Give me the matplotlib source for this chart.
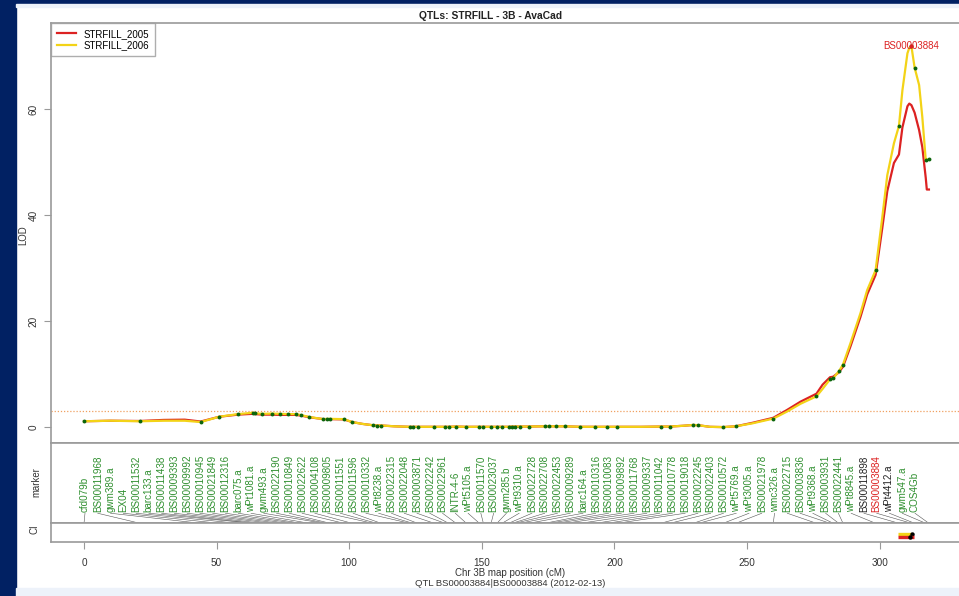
import numpy as np
import matplotlib
matplotlib.use('Agg')
import matplotlib.pyplot as plt
import matplotlib.transforms as mtransforms
from matplotlib.patches import Rectangle

plt.rcParams['font.family'] = ['Liberation Sans', 'DejaVu Sans']

# markers on chromosome 3B, in map order, with positions (cM)
marker_names = [
    'cfd079b', 'BS00011968', 'gwm389.a', 'EX04', 'BS00011532', 'barc133.a',
    'BS00011438', 'BS00009393', 'BS00009992', 'BS00010945', 'BS00021849',
    'BS00012316', 'barc075.a', 'wPt1081.a', 'gwm493.a', 'BS00022190',
    'BS00010849', 'BS00022622', 'BS00004108', 'BS00009805', 'BS00011551',
    'BS00011596', 'BS00010332', 'wPt8238.a', 'BS00022315', 'BS00022048',
    'BS00003871', 'BS00022242', 'BS00022961', 'INTR-4-6', 'wPt5105.a',
    'BS00011570', 'BS00023037', 'gwm285.b', 'wPt9310.a', 'BS00022728',
    'BS00022708', 'BS00022453', 'BS00009289', 'barc164.a', 'BS00010316',
    'BS00010083', 'BS00009892', 'BS00011768', 'BS00009337', 'BS00011042',
    'BS00010778', 'BS00019018', 'BS00022245', 'BS00022403', 'BS00010572',
    'wPt5769.a', 'wPt3005.a', 'BS00021978', 'wmc326.a', 'BS00022715',
    'BS00003836', 'wPt9368.a', 'BS00003931', 'BS00022441', 'wPt8845.a',
    'BS00011898', 'BS00003884', 'wPt4412.a', 'gwm547.a', 'COS4Gb']
marker_pos = [
    0.0, 21.1, 44.0, 51.0, 58.0, 63.6, 64.5, 67.3, 70.9, 73.9, 76.9, 79.8,
    82.0, 85.0, 90.3, 91.6, 92.8, 98.0, 101.1, 108.9, 110.4, 112.0, 122.8,
    124.0, 125.8, 132.1, 136.2, 137.5, 140.3, 144.2, 149.1, 150.6, 153.5,
    155.7, 157.6, 160.1, 161.4, 162.4, 164.3, 167.7, 173.7, 175.5, 178.0,
    181.4, 187.2, 192.8, 197.2, 201.0, 217.4, 220.9, 229.7, 231.7, 241.0,
    245.8, 259.9, 276.2, 281.3, 282.5, 284.6, 286.2, 298.5, 307.3, 312.0,
    313.2, 317.4, 318.6]
black_markers = ['BS00011898', 'wPt4412.a']
peak_marker = 'BS00003884'

# LOD profiles
curve_pos = [
    0.0, 10.0, 21.1, 30.0, 38.0, 44.0, 51.0, 58.0, 63.6, 64.5, 67.3, 70.9,
    73.9, 76.9, 79.8, 82.0, 85.0, 90.3, 91.6, 92.8, 98.0, 101.1, 105.0,
    108.9, 110.4, 112.0, 117.0, 122.8, 124.0, 125.8, 132.1, 136.2, 137.5,
    140.3, 144.2, 149.1, 150.6, 153.5, 155.7, 157.6, 160.1, 161.4, 162.4,
    164.3, 167.7, 173.7, 175.5, 178.0, 181.4, 187.2, 192.8, 197.2, 201.0,
    210.0, 217.4, 220.9, 226.0, 229.7, 231.7, 236.0, 241.0, 245.8, 252.0,
    259.9, 265.0, 270.2, 276.2, 278.5, 281.3, 282.5, 284.6, 286.2, 289.0,
    292.8, 295.3, 298.5, 301.0, 302.9, 305.4, 307.3, 308.6, 310.5, 311.2,
    312.0, 313.2, 314.9, 316.1, 317.4, 317.8, 318.6]
lod_2006 = [
    1.1, 1.2, 1.1, 1.2, 1.2, 0.95, 1.95, 2.45, 2.7, 2.6, 2.5, 2.55,
    2.5, 2.45, 2.45, 2.25, 1.9, 1.5, 1.55, 1.55, 1.5, 0.95, 0.6,
    0.35, 0.3, 0.3, 0.15, 0.05, 0.05, 0.05, 0.05, 0.05, 0.05,
    0.1, 0.05, 0.05, 0.05, 0.05, 0.05, 0.05, 0.05, 0.1, 0.1,
    0.1, 0.1, 0.15, 0.15, 0.15, 0.15, 0.05, 0.05, 0.05, 0.05,
    0.05, 0.1, 0.1, 0.25, 0.4, 0.35, 0.05, 0.0, 0.15, 0.7,
    1.6, 2.9, 4.4, 5.8, 7.2, 9.0, 9.2, 10.5, 11.8, 15.8,
    21.5, 25.8, 29.6, 39.5, 47.5, 53.5, 56.8, 63.5, 70.5, 71.5,
    71.8, 67.8, 64.5, 58.5, 50.4, 50.4, 50.5]
lod_2005 = [
    1.1, 1.2, 1.15, 1.35, 1.4, 1.05, 1.95, 2.35, 2.5, 2.45, 2.35, 2.35,
    2.3, 2.3, 2.3, 2.15, 1.85, 1.5, 1.5, 1.5, 1.45, 0.95, 0.6,
    0.35, 0.3, 0.3, 0.15, 0.05, 0.05, 0.05, 0.05, 0.05, 0.05,
    0.1, 0.05, 0.05, 0.05, 0.05, 0.05, 0.05, 0.05, 0.1, 0.1,
    0.1, 0.1, 0.15, 0.15, 0.15, 0.15, 0.05, 0.05, 0.05, 0.05,
    0.05, 0.1, 0.1, 0.25, 0.4, 0.35, 0.05, 0.0, 0.15, 0.8,
    1.75, 3.2, 4.8, 6.3, 8.0, 9.4, 9.5, 10.3, 11.4, 15.2,
    20.8, 25.0, 28.7, 37.5, 44.5, 49.8, 51.4, 56.5, 60.5, 61.0,
    60.7, 59.3, 56.0, 52.8, 47.0, 44.8, 44.8]
threshold = 3.0

# confidence intervals: (left, right, peak)
ci_2006 = (307.1, 311.9, 312.2)
ci_2005 = (307.1, 312.8, 311.6)

title = 'QTLs: STRFILL - 3B - AvaCad'
subtitle = 'QTL BS00003884|BS00003884 (2012-02-13)'

RED = '#dc2222'
YEL = '#f3d317'
GREEN_TXT = '#2f8f2f'
DOT = '#0b650b'
SPINE = '#9a9a9a'

W, H = 959, 596
fig = plt.figure(figsize=(W / 100, H / 100), dpi=100)
fig.patch.set_facecolor('white')


def fx(px):
    return px / W


def fy(py):
    return 1 - py / H


left = 50.7
ax = fig.add_axes([fx(left), fy(443), 1 - fx(left), fy(23) - fy(443)])
ax_m = fig.add_axes([fx(left), fy(523.3), 1 - fx(left), fy(443) - fy(523.3)], sharex=ax)
ax_ci = fig.add_axes([fx(left), fy(541.7), 1 - fx(left), fy(523.3) - fy(541.7)], sharex=ax)

xmin = (left - 84) / 2.652
xmax = (W - 84) / 2.652
ax.set_xlim(xmin, xmax)
ax.set_ylim(-3.0, 76.2)

for a in (ax, ax_m, ax_ci):
    for s in a.spines.values():
        s.set_color(SPINE)
        s.set_linewidth(1.2)
    a.spines['right'].set_visible(False)
    a.set_facecolor('white')

# LOD panel
ax.axhline(threshold, color='#f0a060', lw=0.9, ls=(0, (1, 1.5)), zorder=1)
ax.plot(curve_pos, lod_2005, color=RED, lw=1.6, label='STRFILL_2005', zorder=2)
ax.plot(curve_pos, lod_2006, color=YEL, lw=1.6, label='STRFILL_2006', zorder=3)
cp = np.array(curve_pos)
l6 = np.array(lod_2006)
on_marker = np.isin(cp, marker_pos)
ax.plot(cp[on_marker], l6[on_marker], 'o', color=DOT, ms=2.8, mew=0, zorder=4)
ipk = marker_pos[marker_names.index(peak_marker)]
pk_lod = l6[np.argmin(np.abs(cp - ipk))]
ax.plot([ipk], [pk_lod], 'o', color=RED, ms=3, mew=0, zorder=5)
ax.text(ipk, pk_lod + 0.1, peak_marker, color=RED, fontsize=7.0,
        ha='center', va='center', zorder=6)

ax.set_yticks([0, 20, 40, 60])
ax.tick_params(axis='y', length=5, width=0.8, color=SPINE, pad=3.5,
               labelsize=7.2, labelcolor='#333333', labelrotation=90)
for t in ax.get_yticklabels():
    t.set_va('center')
ax.tick_params(axis='x', bottom=False, labelbottom=False)

leg = ax.legend(loc='upper left', fontsize=7.0, frameon=True, fancybox=False,
                borderaxespad=0, handlelength=2.0, handletextpad=0.8,
                labelspacing=0.15, borderpad=0.6)
leg.get_frame().set_edgecolor(SPINE)
leg.get_frame().set_linewidth(1.0)
for line in leg.get_lines():
    line.set_linewidth(1.6)

# marker panel
ax_m.set_ylim(0, 1)
ax_m.set_yticks([])
ax_m.tick_params(axis='x', bottom=False, labelbottom=False)
trans = mtransforms.blended_transform_factory(ax_m.transData, ax_m.transAxes)
n = len(marker_names)
label_x = np.linspace((85 - 84) / 2.652, (915 - 84) / 2.652, n)
for name, mp, lx in zip(marker_names, marker_pos, label_x):
    if name == peak_marker:
        c = RED
    elif name in black_markers:
        c = '#222222'
    else:
        c = GREEN_TXT
    ax_m.text(lx, 0.14, name, rotation=90, ha='center', va='bottom',
              fontsize=7.1, color=c, transform=trans)
    ax_m.plot([lx, mp], [0.125, 0.0], color='#555555', lw=0.4, transform=trans)

# CI panel
ax_ci.set_ylim(0, 1)
ax_ci.set_yticks([])
for (lo, hi, pk), c, yy in ((ci_2006, YEL, 0.42), (ci_2005, RED, 0.24)):
    ax_ci.plot([lo, hi], [yy, yy], color=c, lw=2.4, solid_capstyle='butt')
    ax_ci.plot([pk], [yy], 'o', color='black', ms=3.2, mew=0)
ax_ci.set_xticks([0, 50, 100, 150, 200, 250, 300])
ax_ci.tick_params(axis='x', length=5, width=0.8, color=SPINE, pad=6.5,
                  labelsize=7.2, labelcolor='#333333')

# texts around the panels
fig.text(fx(491), fy(16), title, ha='center', va='center', fontsize=7.4,
         fontweight='bold', color='#222222')
fig.text(fx(510), fy(573), 'Chr 3B map position (cM)', ha='center',
         va='center', fontsize=7.0, color='#333333')
fig.text(fx(510), fy(584), subtitle, ha='center', va='center',
         fontsize=6.8, color='#333333')
fig.text(fx(23), fy(235), 'LOD', rotation=90, ha='center', va='center',
         fontsize=6.9, color='#333333')
fig.text(fx(36.5), fy(482), 'marker', rotation=90, ha='center', va='center',
         fontsize=6.9, color='#333333')
fig.text(fx(35), fy(529), 'CI', rotation=90, ha='center', va='center',
         fontsize=6.9, color='#333333')

# slide frame around the screenshot
NAVY = '#012163'
LIGHT = '#edf2fa'
fig.add_artist(Rectangle((0, 0), fx(16), 1, transform=fig.transFigure,
                         color=NAVY, zorder=10))
fig.add_artist(Rectangle((0, fy(4)), 1, 4 / H, transform=fig.transFigure,
                         color=NAVY, zorder=10))
fig.add_artist(Rectangle((fx(16), fy(7)), 1, 3 / H, transform=fig.transFigure,
                         color=LIGHT, zorder=10))
fig.add_artist(Rectangle((fx(16), 0), 1, 8 / H, transform=fig.transFigure,
                         color=LIGHT, zorder=10))

fig.savefig('out.png', dpi=100)
